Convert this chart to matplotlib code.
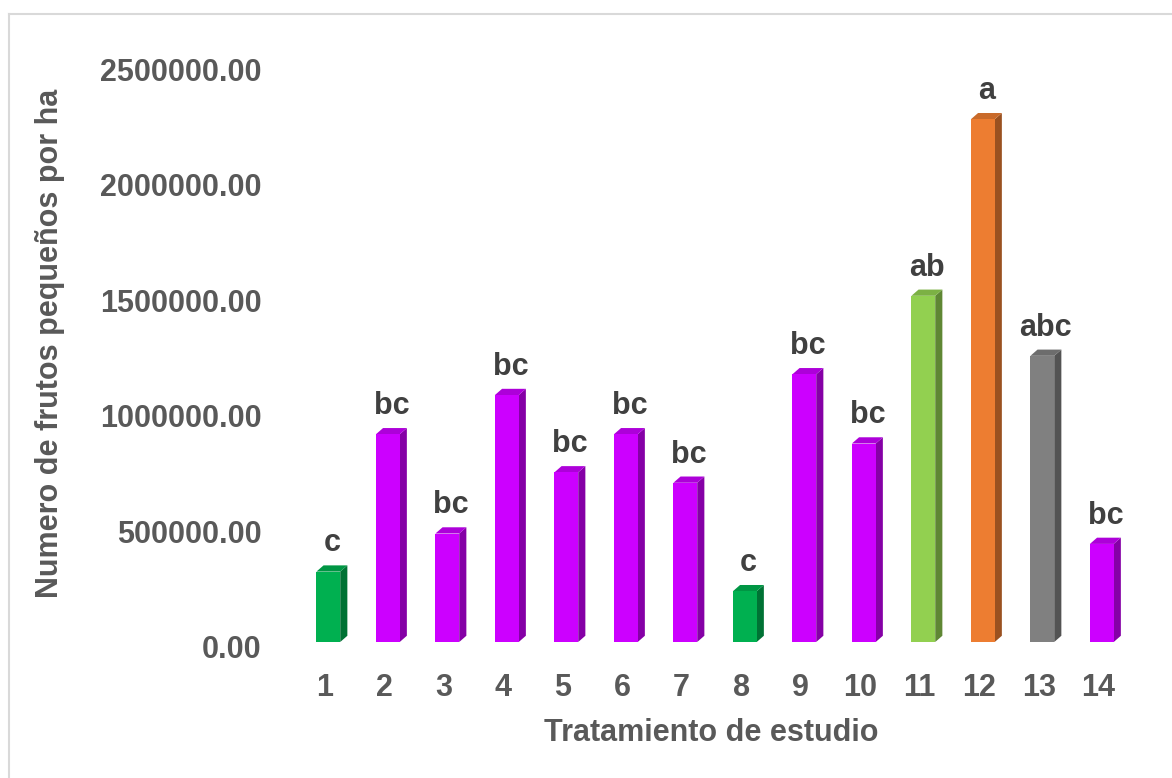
import numpy as np
import matplotlib.pyplot as plt
import matplotlib.transforms as mtransforms
from matplotlib.patches import Polygon
from matplotlib.lines import Line2D
from matplotlib.colors import to_rgb

plt.rcParams['font.family'] = ['Liberation Sans', 'DejaVu Sans']

tratamientos = ['1', '2', '3', '4', '5', '6', '7', '8', '9', '10', '11', '12', '13', '14']
frutos = [305000, 900000, 470000, 1070000, 735000, 900000, 690000, 220000,
          1160000, 860000, 1500000, 2265000, 1240000, 425000]
letras = ['c', 'bc', 'bc', 'bc', 'bc', 'bc', 'bc', 'c', 'bc', 'bc', 'ab', 'a', 'abc', 'bc']
colores = ['#00B050', '#CC00FF', '#CC00FF', '#CC00FF', '#CC00FF', '#CC00FF', '#CC00FF',
           '#00B050', '#CC00FF', '#CC00FF', '#92D050', '#ED7D31', '#808080', '#CC00FF']

def oscuro(c, f=0.65):
    r, g, b = to_rgb(c)
    return (r * f, g * f, b * f)

fig = plt.figure(figsize=(11.72, 7.78), dpi=100)
ax = fig.add_axes([295 / 1172, 1 - 642 / 778, (1128 - 295) / 1172, (642 - 65) / 778])

x = np.arange(1, len(frutos) + 1)
ancho = 0.40
shift = 0.06
dx = 0.12          # profundidad en unidades de x
dy = 27000         # profundidad en unidades de y

for xi, v, c in zip(x, frutos, colores):
    x0 = xi - ancho / 2 + shift
    x1 = x0 + ancho
    ax.bar(x0, v, width=ancho, align='edge', color=c, zorder=3)
    # cara lateral
    ax.add_patch(Polygon([(x1, 0), (x1 + dx, dy), (x1 + dx, v + dy), (x1, v)],
                         closed=True, facecolor=oscuro(c), edgecolor='none', zorder=2))
    # cara superior
    ax.add_patch(Polygon([(x0, v), (x0 + dx, v + dy), (x1 + dx, v + dy), (x1, v)],
                         closed=True, facecolor=oscuro(c, 0.85), edgecolor='none', zorder=2))

for xi, v, t in zip(x, frutos, letras):
    ax.text(xi + shift + dx / 2, v + dy + 30000, t, ha='center', va='bottom',
            fontsize=22, fontweight='bold', color='#404040')

ax.set_xlim(0.5, 14.5)
ax.set_ylim(0, 2500000)
ax.set_yticks(np.arange(0, 2500001, 500000))
ax.set_yticklabels([f'{v:.2f}' for v in np.arange(0, 2500001, 500000)])
ax.set_xticks(x)
ax.set_xticklabels(tratamientos)
ax.tick_params(axis='both', length=0, labelsize=22, labelcolor='#595959')
ax.tick_params(axis='y', pad=24)
ax.tick_params(axis='x', pad=22)
desplaza = mtransforms.ScaledTranslation(0, -4.5 / 100, fig.dpi_scale_trans)
for lab in ax.get_yticklabels():
    lab.set_transform(lab.get_transform() + desplaza)
for lab in ax.get_xticklabels() + ax.get_yticklabels():
    lab.set_fontweight('bold')
for s in ax.spines.values():
    s.set_visible(False)

ax.set_xlabel('Tratamiento de estudio', fontsize=22, fontweight='bold', color='#595959', labelpad=11)
fig.text(50 / 1172, 1 - 343 / 778, 'Numero de frutos pequeños por ha', rotation=90,
         ha='center', va='center', fontsize=22, fontweight='bold', color='#595959')

# borde del gráfico
fig.add_artist(Line2D([8.5 / 1172, 1.01], [1 - 13.5 / 778] * 2, color='#D9D9D9', lw=1.5))
fig.add_artist(Line2D([8.5 / 1172] * 2, [1 - 13.5 / 778, -0.01], color='#D9D9D9', lw=1.5))

fig.savefig('out.png', dpi=100)
